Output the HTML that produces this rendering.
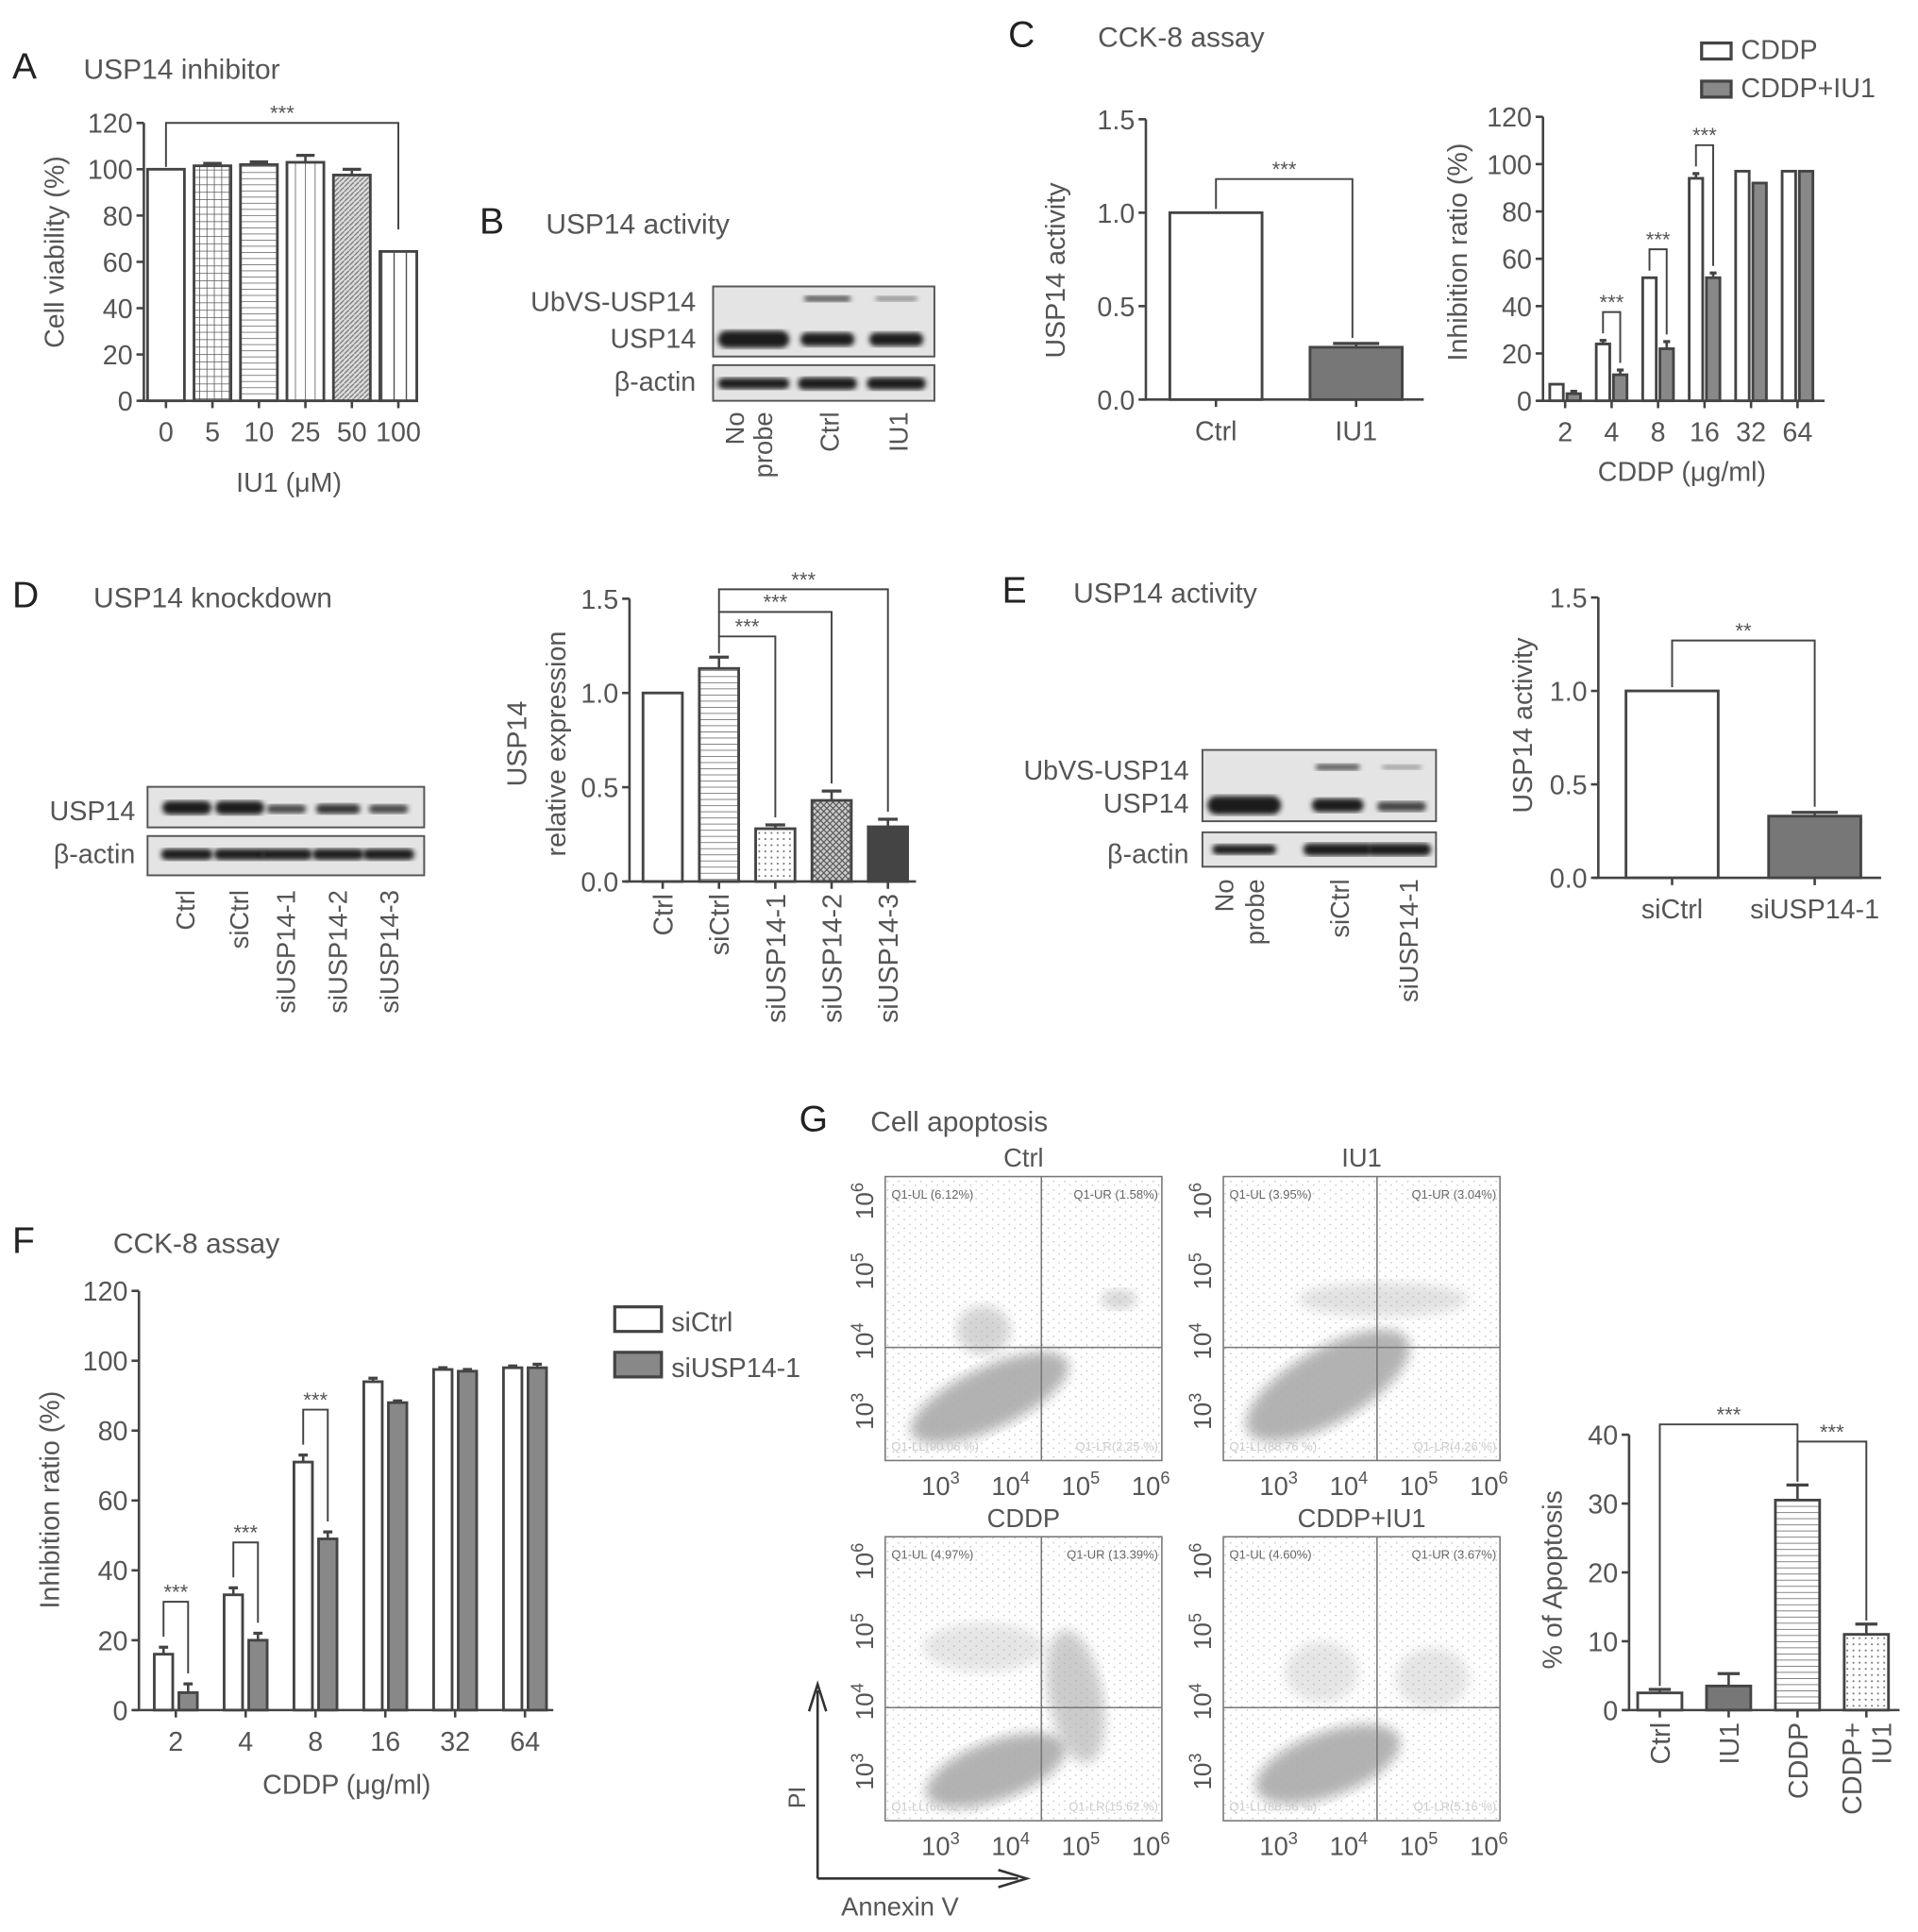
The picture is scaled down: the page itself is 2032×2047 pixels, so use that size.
<!DOCTYPE html>
<html><head><meta charset="utf-8"><style>
html,body{margin:0;padding:0;background:#fff;}
svg{display:block;font-family:"Liberation Sans",sans-serif;}
</style></head><body>
<svg id="fig" xmlns="http://www.w3.org/2000/svg" width="2032" height="2047" viewBox="0 0 1560 1571.5" preserveAspectRatio="none">
<defs>
<pattern id="pgrid" width="6" height="6" patternUnits="userSpaceOnUse"><rect width="6" height="6" fill="#fff"/><path d="M0 0H6M0 0V6" stroke="#555" stroke-width="1.2"/></pattern>
<pattern id="ph" width="6" height="5" patternUnits="userSpaceOnUse"><rect width="6" height="5" fill="#fff"/><path d="M0 0H6" stroke="#666" stroke-width="1.2"/></pattern>
<pattern id="pv" width="8" height="6" patternUnits="userSpaceOnUse"><rect width="8" height="6" fill="#fff"/><path d="M0 0V6" stroke="#555" stroke-width="1.2"/></pattern>
<pattern id="pvw" width="10" height="6" patternUnits="userSpaceOnUse"><rect width="10" height="6" fill="#fff"/><path d="M0 0V6" stroke="#444" stroke-width="2"/></pattern>
<pattern id="pd" width="4" height="4" patternUnits="userSpaceOnUse"><rect width="4" height="4" fill="#ddd"/><path d="M0 4L4 0" stroke="#777" stroke-width="1"/></pattern>
<pattern id="pdot" width="5" height="5" patternUnits="userSpaceOnUse"><rect width="5" height="5" fill="#fff"/><circle cx="2.5" cy="2.5" r="0.8" fill="#777"/></pattern>
<pattern id="px" width="5" height="5" patternUnits="userSpaceOnUse"><rect width="5" height="5" fill="#ccc"/><path d="M0 0L5 5M5 0L0 5" stroke="#555" stroke-width="0.9"/></pattern>
<pattern id="pspeck" width="9" height="7" patternUnits="userSpaceOnUse"><circle cx="2" cy="2" r="0.6" fill="#bbb"/><circle cx="6.5" cy="5" r="0.6" fill="#bbb"/></pattern>
<filter id="blur2"><feGaussianBlur stdDeviation="2"/></filter>
<filter id="blur6"><feGaussianBlur stdDeviation="5"/></filter>
</defs>
</svg>
<script>
// ---------- data ----------
const aCats=['0','5','10','25','50','100'];
const aVals=[100,101.5,102,103,97.5,64.5];
const aErr=[0,1,1.2,3,2.5,0];
const aTicks=[0,20,40,60,80,100,120];
const cLeftCats=['Ctrl','IU1'];
const cLeftVals=[1.0,0.28];
const cLeftErr=[0,0.02];
const actTicks=[0,0.5,1.0,1.5];
const actTickLabels=['0.0','0.5','1.0','1.5'];
const cRightCats=['2','4','8','16','32','64'];
const cCddp=[7,24,52,94,97,97];
const cCddpErr=[0,1.5,0,2,0,0];
const cCombo=[3,11,22,52,92,97];
const cComboErr=[1,2,3,2,0,0];
const dCats=['Ctrl','siCtrl','siUSP14-1','siUSP14-2','siUSP14-3'];
const dVals=[1.0,1.13,0.28,0.43,0.29];
const dErr=[0,0.06,0.02,0.05,0.04];
const eCats=['siCtrl','siUSP14-1'];
const eVals=[1.0,0.33];
const eErr=[0,0.02];
const fCats=['2','4','8','16','32','64'];
const fCtrl=[16,33,71,94,97.5,98];
const fCtrlErr=[2,2,2,1,0.5,0.5];
const fSi=[5,20,49,88,97,98];
const fSiErr=[2.5,2,2,0.5,0.5,1];
const gCats=['Ctrl','IU1','CDDP','CDDP+|IU1'];
const gVals=[2.5,3.5,30.5,11];
const gErr=[0.5,1.8,2.2,1.5];
const gTicks=[0,10,20,30,40];

const NS='http://www.w3.org/2000/svg';
const svg=document.getElementById('fig');
const TC='#555', LC='#444';
function mk(tag,a,p){const e=document.createElementNS(NS,tag);for(const k in a)e.setAttribute(k,a[k]);(p||svg).appendChild(e);return e;}
function tx(x,y,s,size,anchor,rot,col){const e=mk('text',{x:x,y:y,'font-size':size,'text-anchor':anchor||'start',fill:col||TC});if(rot)e.setAttribute('transform','rotate(-90 '+x+' '+y+')');e.textContent=s;return e;}

function chart(o){
  const g=mk('g',{});
  
  
  const Y=v=>o.y0-v/o.max*(o.y0-o.yTop);
  const X=i=>o.first+i*o.step;
  o.Y=Y;o.X=X;
  const fs=o.fs||22;
  const ya=mk('line',{x1:o.x0,y1:o.y0,x2:o.x0,y2:o.yTop,stroke:LC,'stroke-width':2},g);
  
  
  o.ticks.forEach((t,i)=>{
    mk('line',{x1:o.x0-6,y1:Y(t),x2:o.x0,y2:Y(t),stroke:LC,'stroke-width':2},g);
    const l=tx(o.x0-9,Y(t)+8,o.tickLabels?o.tickLabels[i]:String(t),fs,'end');
    
    
  });
  const xa=mk('line',{x1:o.x0-4,y1:o.y0,x2:o.xEnd,y2:o.y0,stroke:LC,'stroke-width':2},g);
  
  
  o.cats.forEach((c,i)=>{
    mk('line',{x1:X(i),y1:o.y0,x2:X(i),y2:o.y0+6,stroke:LC,'stroke-width':2},g);
    const parts=c.split('|');
    parts.forEach((p,k)=>{
      let l;
      const off=(k-(parts.length-1)/2)*24;
      if(o.rot) l=tx(X(i)+8+off,o.y0+10,p,fs,'end',true);
      else l=tx(X(i),o.y0+33,p,fs,'middle');
      
      
    });
  });
  o.series.forEach(s=>{
    s.vals.forEach((v,i)=>{
      const cx=X(i)+(s.off||0), w=s.w;
      const r=mk('rect',{x:cx-w/2,y:Y(v),width:w,height:o.y0-Y(v),fill:Array.isArray(s.fill)?s.fill[i]:s.fill,stroke:LC,'stroke-width':2.2},g);
      
      
      const e=s.errs[i];
      if(e>0){
        mk('line',{x1:cx,y1:Y(v),x2:cx,y2:Y(v+e),stroke:LC,'stroke-width':2},g);
        mk('line',{x1:cx-w*0.25,y1:Y(v+e),x2:cx+w*0.25,y2:Y(v+e),stroke:LC,'stroke-width':2.5},g);
      }
    });
  });
  return o;
}
function bracket(x1,yl,yt,x2,yr,label,name){
  const p=mk('polyline',{points:`${x1},${yl} ${x1},${yt} ${x2},${yt} ${x2},${yr}`,fill:'none',stroke:LC,'stroke-width':1.5});
  
  
  const t=tx((x1+x2)/2,yt-2,label,17,'middle');
  
  
}
function head(letter,lx,title,tx2,y){
  const a=tx(lx,y,letter,30,'start',false,'#222');
  
  
  const b=tx(tx2,y,title,23,'start');
  
  
}
function label(x,y,s,size,anchor,rot,name){const t=tx(x,y,s,size,anchor,rot);return t;}

// ---------- Panel A ----------
head('A',10,'USP14 inhibitor',68,64);
const A=chart({name:'chart-a',x0:117,xEnd:340,y0:326,yTop:100,max:120,ticks:aTicks,cats:aCats,first:135,step:37.8,
  series:[{vals:aVals,errs:aErr,w:30,fill:['#fff','url(#pgrid)','url(#ph)','url(#pv)','url(#pd)','url(#pvw)']}]});
bracket(A.X(0),A.Y(101),A.Y(120),A.X(5),A.Y(74),'***','bracket-a');
label(235,400,'IU1 (μM)',22,'middle',false,'x-axis-title-a');
label(52,205,'Cell viability (%)',22,'middle',true,'y-axis-title-a');

// ---------- blots ----------
function blot(x,y,w,h,bands,name){
  const g=mk('g',{});
  
  
  mk('rect',{x:x,y:y,width:w,height:h,fill:'#e4e4e4',stroke:'#555','stroke-width':1.5},g);
  bands.forEach(b=>{mk('rect',{x:b[0]-b[2]/2,y:b[1]-b[3]/2,width:b[2],height:b[3],rx:b[3]/2,fill:b[4]||'#1a1a1a',filter:'url(#blur2)'},g);});
}
head('B',390,'USP14 activity',444,190);
blot(580,233,180,57,[[613,276,58,14],[673,276,44,11],[729,276,44,11],[673,243,38,5,'#555'],[729,243,34,4,'#888']],'blot-b-usp14');
blot(580,297,180,29,[[613,312,58,9],[673,312,48,10],[729,312,48,10]],'blot-b-actin');
label(566,253,'UbVS-USP14',22,'end',false,'blot-label-ubvs-b');
label(566,283,'USP14',22,'end',false,'blot-label-usp14-b');
label(566,318,'β-actin',22,'end',false,'blot-label-actin-b');
label(605,335,'No',21,'end',true,'lane-label-b');label(628,335,'probe',21,'end',true,'lane-label-b');
label(682,335,'Ctrl',21,'end',true,'lane-label-b');label(738,335,'IU1',21,'end',true,'lane-label-b');

// ---------- Panel C ----------
head('C',820,'CCK-8 assay',893,38);
const CL=chart({name:'chart-c-activity',x0:932,xEnd:1158,y0:325,yTop:97,max:1.5,ticks:actTicks,tickLabels:actTickLabels,cats:cLeftCats,first:989,step:114,
  series:[{vals:cLeftVals,errs:cLeftErr,w:75,fill:['#fff','#777']}]});
bracket(CL.X(0),CL.Y(1.02),CL.Y(1.18),CL.X(1)-3,CL.Y(0.33),'***','bracket-c');
label(866,220,'USP14 activity',22,'middle',true,'y-axis-title-c');
const CR=chart({name:'chart-c-inhibition',x0:1255,xEnd:1484,y0:326,yTop:95,max:120,ticks:aTicks,cats:cRightCats,first:1273,step:37.8,
  series:[{vals:cCddp,errs:cCddpErr,w:11,off:-7,fill:'#fff'},{vals:cCombo,errs:cComboErr,w:11,off:7,fill:'#888'}]});
[1,2,3].forEach(i=>bracket(CR.X(i)-7,CR.Y(cCddp[i]+cCddpErr[i]+3),CR.Y(cCddp[i]+cCddpErr[i]+12),CR.X(i)+7,CR.Y(cCombo[i]+cComboErr[i]+3),'***','bracket-c-'+cRightCats[i]));
label(1368,391,'CDDP (μg/ml)',22,'middle',false,'x-axis-title-c');
label(1193,205,'Inhibition ratio (%)',22,'middle',true,'y-axis-title-c-right');
function legend(x,y,fill,s,name,w,h){const r=mk('rect',{x:x,y:y,width:w,height:h,fill:fill,stroke:LC,'stroke-width':2.5});label(x+w+8,y+h,s,22,'start',false,name);}
legend(1384,35,'#fff','CDDP','legend-cddp',24,13);
legend(1384,66,'#888','CDDP+IU1','legend-cddp-iu1',24,13);

// ---------- Panel D ----------
head('D',10,'USP14 knockdown',76,494);
blot(120,640,225,33,[[152,657,40,11],[195,657,40,11],[233,658,32,7,'#444'],[275,658,36,8,'#333'],[316,658,32,7,'#444']],'blot-d-usp14');
blot(120,680,225,32,[[152,695,42,9],[195,695,42,9],[233,695,42,9],[275,695,42,9],[316,695,42,9]],'blot-d-actin');
label(110,667,'USP14',22,'end',false,'blot-label-usp14-d');
label(110,702,'β-actin',22,'end',false,'blot-label-actin-d');
['Ctrl','siCtrl','siUSP14-1','siUSP14-2','siUSP14-3'].forEach((s,i)=>label([158,202,240,282,324][i],724,s,21,'end',true,'lane-label-d'));
const D=chart({name:'chart-d',x0:512,xEnd:745,y0:717,yTop:487,max:1.5,ticks:actTicks,tickLabels:actTickLabels,cats:dCats,first:539,step:45.8,rot:true,
  series:[{vals:dVals,errs:dErr,w:32,fill:['#fff','url(#ph)','url(#pdot)','url(#px)','#444']}]});
bracket(D.X(1),D.Y(1.21),D.Y(1.3),D.X(2),D.Y(0.34),'***','bracket-d-1');
bracket(D.X(1),D.Y(1.3),D.Y(1.43),D.X(3),D.Y(0.52),'***','bracket-d-2');
bracket(D.X(1),D.Y(1.43),D.Y(1.55),D.X(4),D.Y(0.37),'***','bracket-d-3');
label(428,605,'USP14',22,'middle',true,'y-axis-title-d-1');
label(460,605,'relative expression',22,'middle',true,'y-axis-title-d-2');

// ---------- Panel E ----------
head('E',815,'USP14 activity',873,490);
blot(978,610,190,58,[[1012,655,60,15],[1088,655,42,11],[1140,656,40,8,'#444'],[1088,624,36,5,'#555'],[1140,624,32,4,'#999']],'blot-e-usp14');
blot(978,677,190,28,[[1012,691,52,8],[1088,691,56,10],[1138,691,52,10]],'blot-e-actin');
label(967,634,'UbVS-USP14',22,'end',false,'blot-label-ubvs-e');
label(967,661,'USP14',22,'end',false,'blot-label-usp14-e');
label(967,702,'β-actin',22,'end',false,'blot-label-actin-e');
label(1003,715,'No',21,'end',true,'lane-label-e');label(1028,715,'probe',21,'end',true,'lane-label-e');
label(1097,715,'siCtrl',21,'end',true,'lane-label-e');label(1153,715,'siUSP14-1',21,'end',true,'lane-label-e');
const E=chart({name:'chart-e',x0:1300,xEnd:1530,y0:714,yTop:486,max:1.5,ticks:actTicks,tickLabels:actTickLabels,cats:eCats,first:1360,step:116,
  series:[{vals:eVals,errs:eErr,w:75,fill:['#fff','#777']}]});
bracket(E.X(0),E.Y(1.02),E.Y(1.27),E.X(1),E.Y(0.38),'**','bracket-e');
label(1246,590,'USP14 activity',22,'middle',true,'y-axis-title-e');

// ---------- Panel F ----------
head('F',10,'CCK-8 assay',92,1019);
const F=chart({name:'chart-f',x0:113,xEnd:450,y0:1391,yTop:1050,max:120,ticks:aTicks,cats:fCats,first:143,step:56.8,
  series:[{vals:fCtrl,errs:fCtrlErr,w:15,off:-10,fill:'#fff'},{vals:fSi,errs:fSiErr,w:15,off:10,fill:'#888'}]});
[0,1,2].forEach(i=>bracket(F.X(i)-10,F.Y(fCtrl[i]+fCtrlErr[i]+3),F.Y(fCtrl[i]+fCtrlErr[i]+13),F.X(i)+10,F.Y(fSi[i]+fSiErr[i]+3),'***','bracket-f-'+fCats[i]));
label(282,1459,'CDDP (μg/ml)',22,'middle',false,'x-axis-title-f');
label(48,1220,'Inhibition ratio (%)',22,'middle',true,'y-axis-title-f');
legend(500,1063,'#fff','siCtrl','legend-sictrl',38,20);
legend(500,1100,'#888','siUSP14-1','legend-siusp14',38,20);

// ---------- Panel G flow plots ----------
head('G',650,'Cell apoptosis',708,920);
function flow(x,y,title,gx,q,clouds,name){
  const g=mk('g',{});
  
  
  const w=225,h=231;
  mk('rect',{x:x,y:y,width:w,height:h,fill:'url(#pspeck)',stroke:'#777','stroke-width':1.2},g);
  clouds.forEach(c=>mk('ellipse',{cx:x+c[0],cy:y+c[1],rx:c[2],ry:c[3],fill:'#aaa',opacity:c[5]||0.9,transform:`rotate(${c[4]} ${x+c[0]} ${y+c[1]})`,filter:'url(#blur6)'},g));
  mk('line',{x1:x+gx,y1:y,x2:x+gx,y2:y+h,stroke:'#777','stroke-width':1.2},g);
  mk('line',{x1:x,y1:y+139,x2:x+w,y2:y+139,stroke:'#777','stroke-width':1.2},g);
  const t=tx(x+w/2,y-8,title,21,'middle');
  tx(x+5,y+18,q[0],10,'start',false,'#666');tx(x+w-3,y+18,q[1],10,'end',false,'#666');
  tx(x+5,y+h-8,q[2],10,'start',false,'#ccc');tx(x+w-3,y+h-8,q[3],10,'end',false,'#ccc');
  ['3','4','5','6'].forEach((e,i)=>{const xx=x+45+i*57;const t1=tx(xx,y+h+28,'10',21,'middle');const s=mk('tspan',{dy:-9,'font-size':14},t1);s.textContent=e;
    const yy=y+h-35-i*57;const t2=tx(x-10,yy+10,'10',20,'start',true);const s2=mk('tspan',{dy:-8,'font-size':14},t2);s2.textContent=e;});
}
flow(720,957,'Ctrl',127,['Q1-UL (6.12%)','Q1-UR (1.58%)','Q1-LL(90.06 %)','Q1-LR(2.25 %)'],[[85,180,70,25,-25],[80,125,22,20,0,0.5],[190,100,15,8,0,0.5]],'flow-plot-ctrl');
flow(995,957,'IU1',125,['Q1-UL (3.95%)','Q1-UR (3.04%)','Q1-LL(88.76 %)','Q1-LR(4.26 %)'],[[85,170,75,30,-30],[130,100,70,14,0,0.35]],'flow-plot-iu1');
flow(720,1250,'CDDP',127,['Q1-UL (4.97%)','Q1-UR (13.39%)','Q1-LL(66.02 %)','Q1-LR(15.62 %)'],[[90,190,60,24,-20],[155,130,22,55,-10,0.6],[80,90,50,20,0,0.3]],'flow-plot-cddp');
flow(995,1250,'CDDP+IU1',125,['Q1-UL (4.60%)','Q1-UR (3.67%)','Q1-LL(86.56 %)','Q1-LR(5.16 %)'],[[85,185,62,26,-20],[170,115,30,25,0,0.3],[80,110,30,25,0,0.3]],'flow-plot-cddp-iu1');
// arrows
const ar=mk('path',{d:'M665 1528V1375M658 1392L665 1370L672 1392M665 1528H828M812 1521L835 1528L812 1535',fill:'none',stroke:'#333','stroke-width':2});


label(655,1462,'PI',19,'middle',true,'flow-y-title');
label(732,1558,'Annexin V',21,'middle',false,'flow-x-title');

// ---------- Panel G bar chart ----------
const G=chart({name:'chart-g',x0:1325,xEnd:1545,y0:1391,yTop:1167,max:40,ticks:gTicks,cats:gCats,first:1350,step:56,rot:true,
  series:[{vals:gVals,errs:gErr,w:36,fill:['#fff','#777','url(#ph)','url(#pdot)']}]});
bracket(G.X(0),G.Y(3.5),G.Y(41.5),G.X(2),G.Y(33.2),'***','bracket-g-1');
bracket(G.X(2),G.Y(33.2),G.Y(39),G.X(3),G.Y(13),'***','bracket-g-2');
label(1270,1285,'% of Apoptosis',22,'middle',true,'y-axis-title-g');
</script>
</body></html>
